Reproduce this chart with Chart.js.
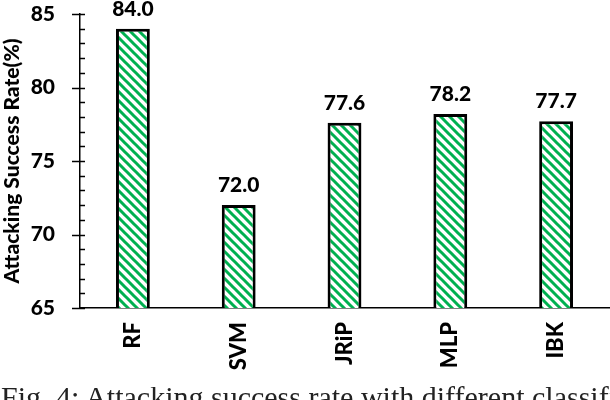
<!DOCTYPE html>
<html>
<head>
<meta charset="utf-8">
<script src="https://cdn.jsdelivr.net/npm/chart.js@4/dist/chart.umd.min.js"></script>
<style>
  html, body { margin: 0; padding: 0; background: #fff; overflow: hidden; }
  #wrap { position: relative; width: 610px; height: 400px; }
  #caption {
    position: absolute; left: 1px; top: 382px; white-space: nowrap; line-height: 30px;
    font-family: "Liberation Serif", "Times New Roman", serif; font-size: 30px; color: #222;
  }
</style>
</head>
<body>
<div id="wrap">
  <canvas id="chart"></canvas>
  <div id="caption">Fig. 4: Attacking success rate with different classifiers</div>
</div>
<script>
const categories = ['RF', 'SVM', 'JRiP', 'MLP', 'IBK'];
const successRates = [84.0, 72.0, 77.6, 78.2, 77.7];
const yTicks = [65, 70, 75, 80, 85];

const FONT = 'Lato, Calibri, "Open Sans", sans-serif';
const WEIGHT = 900;

function hatchPattern() {
  const size = 9;
  const c = document.createElement('canvas');
  c.width = size; c.height = size;
  const g = c.getContext('2d');
  g.fillStyle = '#fff';
  g.fillRect(0, 0, size, size);
  g.strokeStyle = '#00B050';
  g.lineWidth = 3;
  g.beginPath();
  g.moveTo(-2, -2); g.lineTo(size + 2, size + 2);
  g.moveTo(-2, size - 2); g.lineTo(2, size + 2);
  g.moveTo(size - 2, -2); g.lineTo(size + 2, 2);
  g.stroke();
  return g.createPattern(c, 'repeat');
}

// value labels on top of each bar
const valueLabels = {
  id: 'valueLabels',
  afterDatasetsDraw(chart) {
    const ctx = chart.ctx;
    const meta = chart.getDatasetMeta(0);
    ctx.save();
    ctx.font = WEIGHT + ' 21px ' + FONT;
    ctx.fillStyle = '#000';
    ctx.textAlign = 'center';
    ctx.textBaseline = 'alphabetic';
    meta.data.forEach((bar, i) => {
      ctx.fillText(successRates[i].toFixed(1), bar.x, bar.y - 13);
    });
    ctx.restore();
  }
};

// major ticks cross the axis, minor ticks point inwards
const yAxisTicks = {
  id: 'yAxisTicks',
  afterDraw(chart) {
    const ctx = chart.ctx;
    const y = chart.scales.y;
    const x0 = chart.chartArea.left;
    ctx.save();
    ctx.strokeStyle = '#000';
    ctx.lineWidth = 1.5;
    for (let v = yTicks[0]; v <= yTicks[yTicks.length - 1]; v++) {
      const py = Math.round(y.getPixelForValue(v)) + 0.5;
      const major = yTicks.includes(v);
      ctx.beginPath();
      ctx.moveTo(major ? x0 - 8 : x0, py);
      ctx.lineTo(x0 + 5, py);
      ctx.stroke();
    }
    ctx.restore();
  }
};

const ctx = document.getElementById('chart').getContext('2d');
new Chart(ctx, {
  type: 'bar',
  data: {
    labels: categories,
    datasets: [{
      data: successRates,
      backgroundColor: hatchPattern(),
      borderColor: '#000',
      borderWidth: 3,
      borderSkipped: false,
      barPercentage: 0.32,
      categoryPercentage: 1
    }]
  },
  options: {
    responsive: true,
    maintainAspectRatio: false,
    animation: false,
    layout: { padding: { top: 14, right: 1, left: 0, bottom: 0 } },
    plugins: { legend: { display: false }, tooltip: { enabled: false } },
    scales: {
      x: {
        grid: { display: false, drawTicks: false },
        border: { display: true, color: '#000', width: 1.5 },
        ticks: {
          color: '#000',
          font: { family: FONT, weight: WEIGHT, size: 22 },
          minRotation: 90, maxRotation: 90,
          padding: 14
        },
        afterFit(scale) {
          scale.height = 92;
          scale.paddingLeft = 0; scale.paddingRight = 0;
        }
      },
      y: {
        min: 65, max: 85,
        grid: { display: false, drawTicks: false },
        border: { display: true, color: '#000', width: 1.5 },
        ticks: {
          stepSize: 5,
          color: '#000',
          font: { family: FONT, weight: WEIGHT, size: 21 },
          padding: 25
        },
        title: {
          display: true,
          text: 'Attacking Success Rate(%)',
          color: '#000',
          font: { family: FONT, weight: WEIGHT, size: 21 },
          padding: 0
        },
        afterFit(scale) {
          scale.width = 80;
          scale.paddingTop = 0; scale.paddingBottom = 0;
        }
      }
    }
  },
  plugins: [valueLabels, yAxisTicks]
});
</script>
</body>
</html>
